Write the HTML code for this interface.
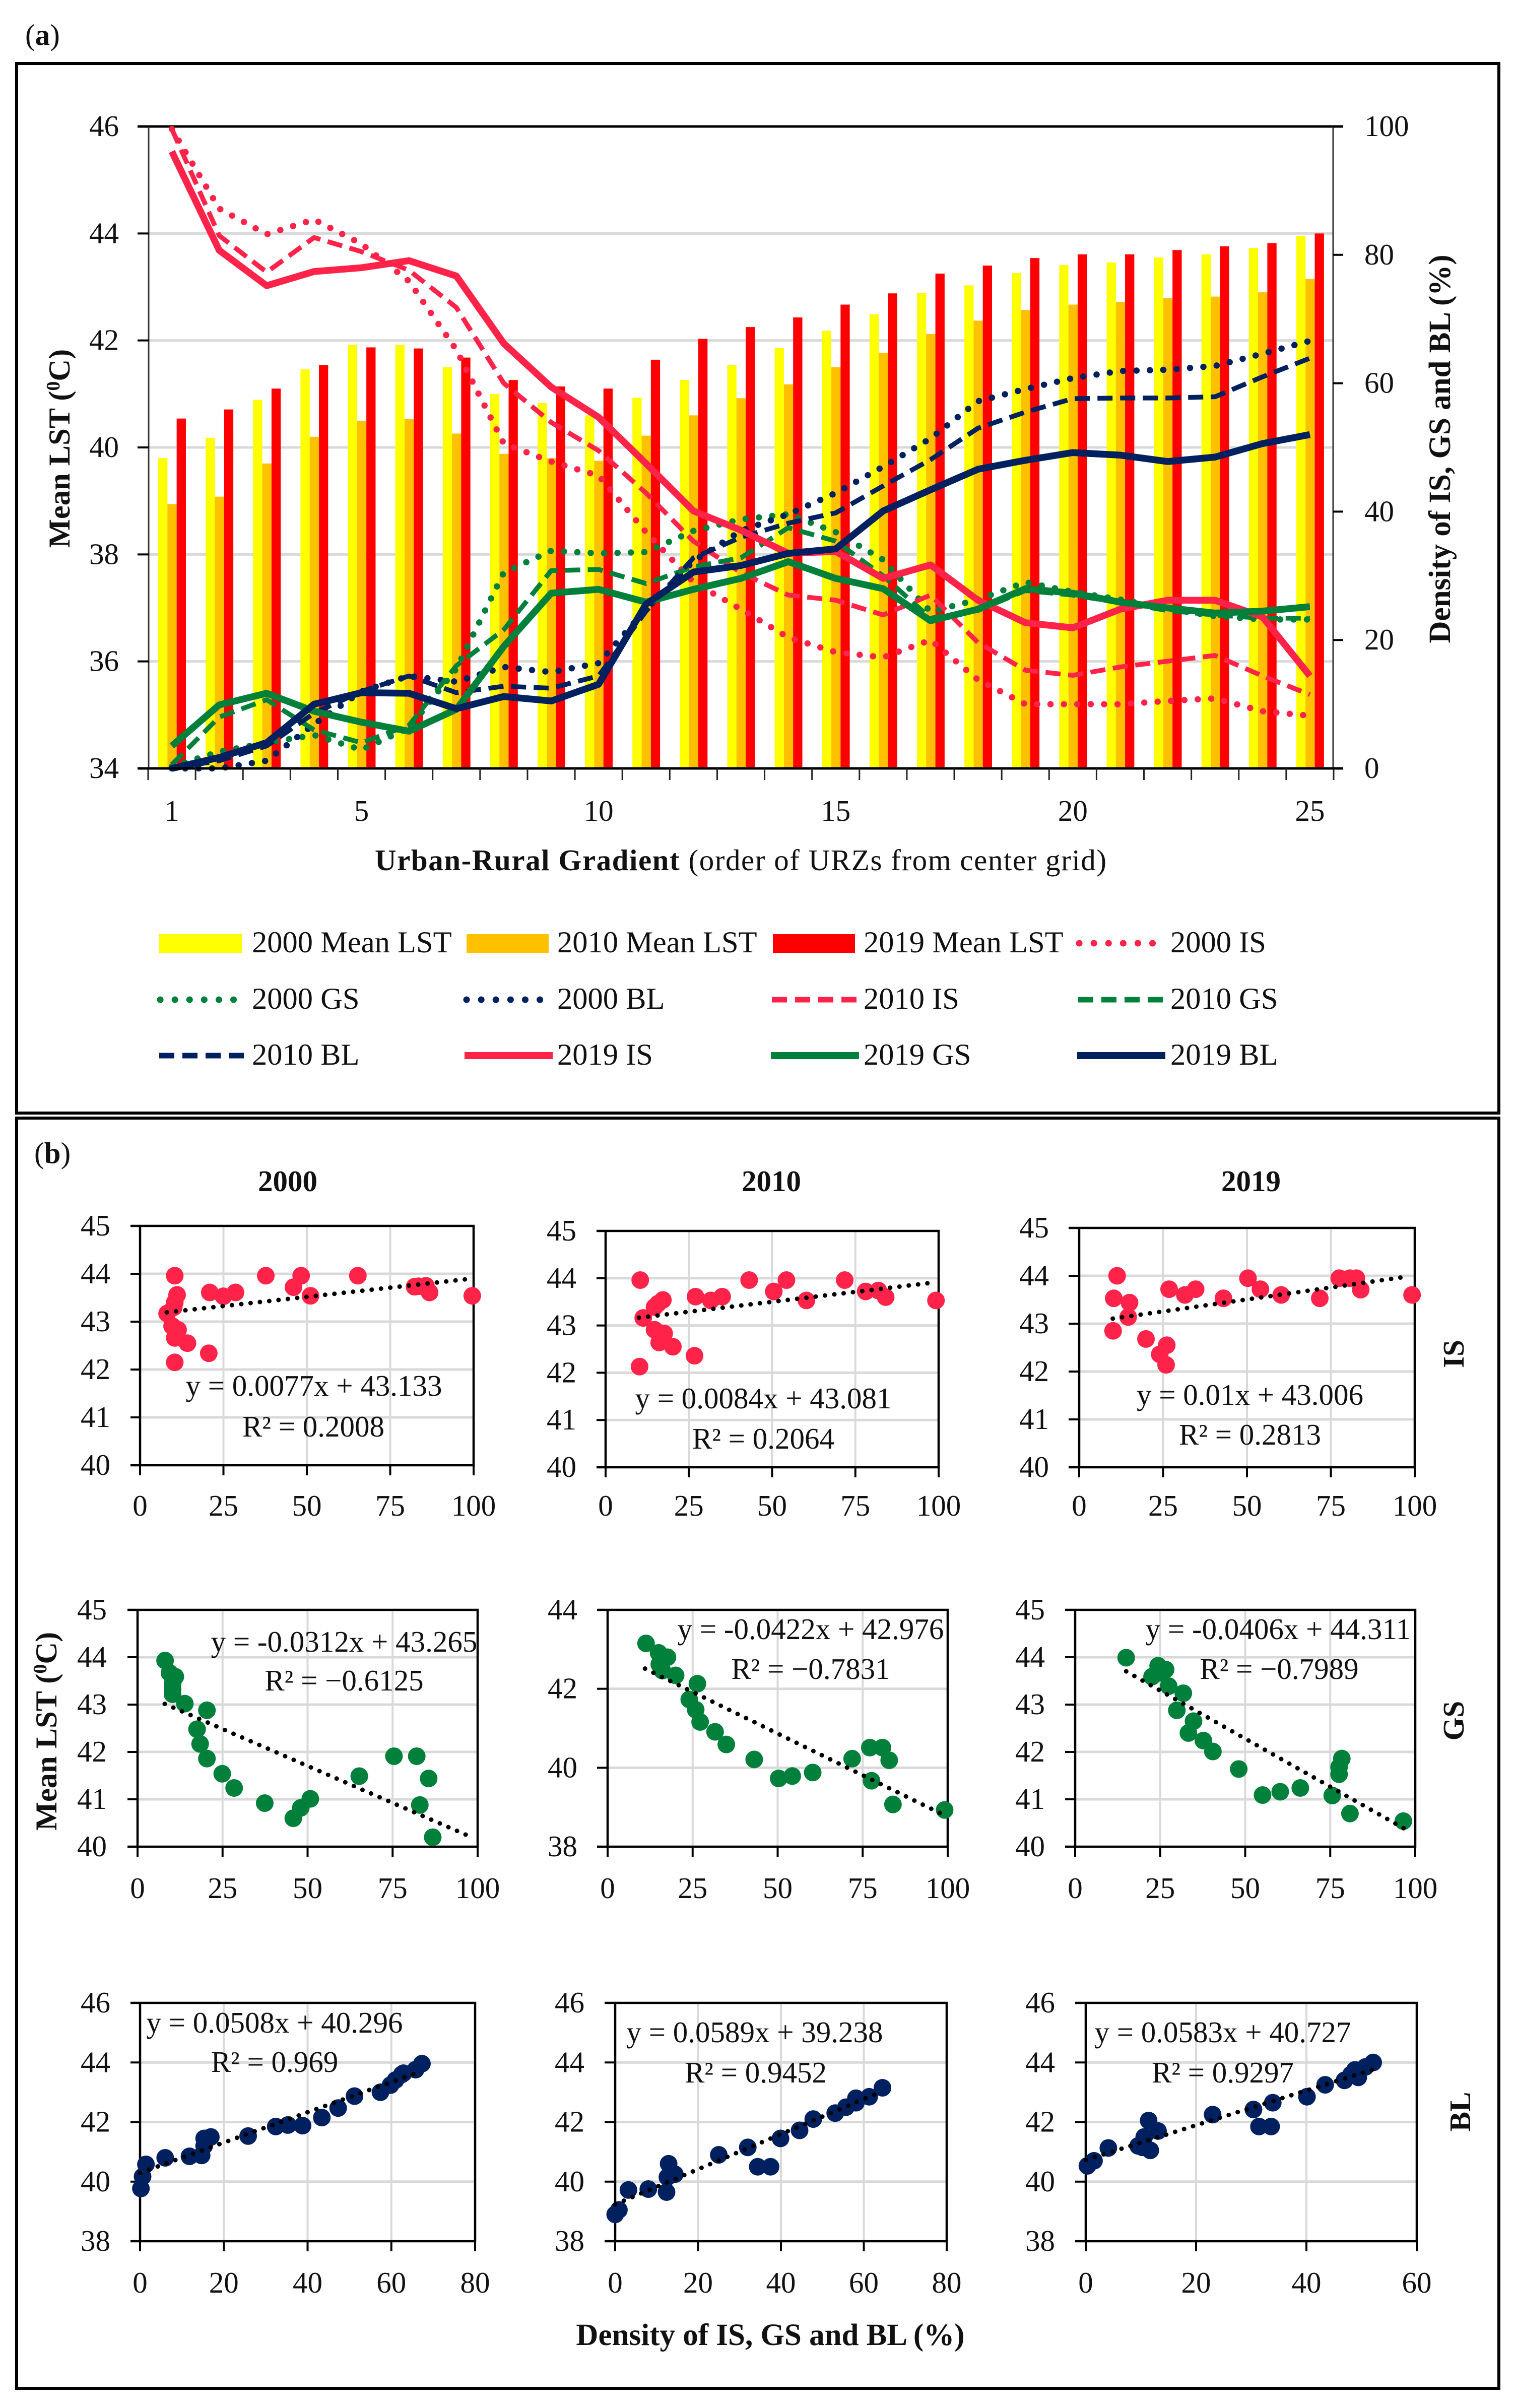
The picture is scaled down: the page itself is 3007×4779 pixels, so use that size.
<!DOCTYPE html>
<html lang="en">
<head>
<meta charset="utf-8">
<title>Mean LST along the urban-rural gradient</title>
<style>
html,body{margin:0;padding:0;background:#fff;width:3007px;height:4779px;overflow:hidden}
svg{display:block}
text{font-family:"Liberation Serif","DejaVu Serif",serif;fill:#111;font-size:59px}
.b{font-weight:bold}
.m{text-anchor:middle}
.lg{font-size:60.5px}
</style>
</head>
<body>
<svg id="figure" xmlns="http://www.w3.org/2000/svg" width="3007" height="4779" viewBox="0 0 3007 4779">
  <rect x="0" y="0" width="3007" height="4779" fill="#fff"/>
  <rect x="33" y="126" width="2942" height="2083" fill="none" stroke="#000" stroke-width="6"/>
  <rect x="33" y="2219" width="2942" height="2521" fill="none" stroke="#000" stroke-width="6"/>
  <text x="50" y="89">(<tspan class="b">a</tspan>)</text>
  <text x="68" y="2308">(<tspan class="b">b</tspan>)</text>
  <g id="main-chart"></g>
  <g id="scatter-charts"></g>

  <text class="b m" style="font-size:60.5px" transform="translate(138,890) rotate(-90)">Mean LST (<tspan dy="-20" font-size="38">0</tspan><tspan dy="20">C)</tspan></text>
  <text class="b m" style="font-size:61px" transform="translate(2878,891) rotate(-90)">Density of IS, GS and BL (%)</text>
  <text x="744" y="1727" textLength="1452"><tspan class="b">Urban-Rural Gradient</tspan> (order of URZs from center grid)</text>

  <g>
    <rect x="316" y="1854" width="164" height="37" fill="#ffff00"/>
    <text class="lg" x="500" y="1890">2000 Mean LST</text>
    <rect x="926" y="1854" width="163" height="37" fill="#ffc000"/>
    <text class="lg" x="1106" y="1890">2010 Mean LST</text>
    <rect x="1534" y="1854" width="163" height="37" fill="#ff0000"/>
    <text class="lg" x="1714" y="1890">2019 Mean LST</text>
    <line x1="2142" y1="1872" x2="2292" y2="1872" stroke="#ff2349" stroke-width="13" stroke-linecap="round" stroke-dasharray="0.1 29"/>
    <text class="lg" x="2323" y="1890">2000 IS</text>

    <line x1="318" y1="1984" x2="468" y2="1984" stroke="#00803a" stroke-width="13" stroke-linecap="round" stroke-dasharray="0.1 29"/>
    <text class="lg" x="500" y="2002">2000 GS</text>
    <line x1="926" y1="1984" x2="1076" y2="1984" stroke="#002060" stroke-width="13" stroke-linecap="round" stroke-dasharray="0.1 29"/>
    <text class="lg" x="1106" y="2002">2000 BL</text>
    <line x1="1532" y1="1984" x2="1705" y2="1984" stroke="#ff2349" stroke-width="11" stroke-dasharray="30 16"/>
    <text class="lg" x="1714" y="2002">2010 IS</text>
    <line x1="2140" y1="1984" x2="2313" y2="1984" stroke="#00803a" stroke-width="11" stroke-dasharray="30 16"/>
    <text class="lg" x="2323" y="2002">2010 GS</text>

    <line x1="316" y1="2095" x2="489" y2="2095" stroke="#002060" stroke-width="11" stroke-dasharray="30 16"/>
    <text class="lg" x="500" y="2113">2010 BL</text>
    <line x1="922" y1="2095" x2="1097" y2="2095" stroke="#ff2349" stroke-width="14"/>
    <text class="lg" x="1106" y="2113">2019 IS</text>
    <line x1="1530" y1="2095" x2="1705" y2="2095" stroke="#00803a" stroke-width="14"/>
    <text class="lg" x="1714" y="2113">2019 GS</text>
    <line x1="2138" y1="2095" x2="2313" y2="2095" stroke="#002060" stroke-width="14"/>
    <text class="lg" x="2323" y="2113">2019 BL</text>
  </g>

  <text class="b m" x="571" y="2364">2000</text>
  <text class="b m" x="1531" y="2364">2010</text>
  <text class="b m" x="2483" y="2364">2019</text>
  <text class="b m" transform="translate(2905,2687) rotate(-90)">IS</text>
  <text class="b m" transform="translate(2905,3415) rotate(-90)">GS</text>
  <text class="b m" transform="translate(2918,4191) rotate(-90)">BL</text>
  <text class="b m" style="font-size:60.5px" transform="translate(112,3436) rotate(-90)">Mean LST (<tspan dy="-20" font-size="38">0</tspan><tspan dy="20">C)</tspan></text>
  <text class="b m" style="font-size:61px" x="1529" y="4654">Density of IS, GS and BL (%)</text>

  <g>
    <text class="m" x="623" y="2770">y = 0.0077x + 43.133</text>
    <text class="m" x="622" y="2851">R² = 0.2008</text>
    <text class="m" x="1515" y="2795">y = 0.0084x + 43.081</text>
    <text class="m" x="1515" y="2875">R² = 0.2064</text>
    <text class="m" x="2481" y="2788">y = 0.01x + 43.006</text>
    <text class="m" x="2481" y="2867">R² = 0.2813</text>
    <text class="m" x="683" y="3278">y = -0.0312x + 43.265</text>
    <text class="m" x="683" y="3355">R² = −0.6125</text>
    <text class="m" x="1609" y="3253">y = -0.0422x + 42.976</text>
    <text class="m" x="1609" y="3332">R² = −0.7831</text>
    <text class="m" x="2537" y="3253">y = -0.0406x + 44.311</text>
    <text class="m" x="2539" y="3332">R² = −0.7989</text>
    <text class="m" x="545" y="4034">y = 0.0508x + 40.296</text>
    <text class="m" x="545" y="4112">R² = 0.969</text>
    <text class="m" x="1498" y="4053">y = 0.0589x + 39.238</text>
    <text class="m" x="1500" y="4133">R² = 0.9452</text>
    <text class="m" x="2427" y="4053">y = 0.0583x + 40.727</text>
    <text class="m" x="2427" y="4133">R² = 0.9297</text>
  </g>
</svg>

<script>
// ---- Panel (a) data ----
const categories = [1,2,3,4,5,6,7,8,9,10,11,12,13,14,15,16,17,18,19,20,21,22,23,24,25];
const categoryLabels = [1,5,10,15,20,25];
const lstTicks = [34,36,38,40,42,44,46];
const densityTicks = [0,20,40,60,80,100];

const lst2000 = [39.8,40.18,40.89,41.46,41.92,41.92,41.5,41.0,40.83,40.6,40.93,41.26,41.54,41.86,42.18,42.49,42.89,43.03,43.26,43.41,43.46,43.55,43.61,43.73,43.95];
const lst2010 = [38.94,39.08,39.7,40.2,40.5,40.53,40.26,39.88,39.8,39.75,40.22,40.6,40.92,41.18,41.5,41.77,42.12,42.37,42.57,42.67,42.72,42.79,42.82,42.9,43.15];
const lst2019 = [40.54,40.71,41.1,41.54,41.87,41.85,41.68,41.26,41.14,41.1,41.64,42.03,42.25,42.43,42.67,42.88,43.25,43.4,43.54,43.61,43.61,43.69,43.76,43.82,44.0];

const is2000 = [99.6,87.2,83.2,85.5,81.7,75.9,65.2,50.6,47.8,45.6,36.8,29,24.8,20.4,18.1,17.3,20,13.8,10,10,10,10.5,10.9,8.9,8.2];
const gs2000 = [0.3,2.6,4,5.2,2.9,6.3,15.5,30.5,33.9,33.5,33.7,37,38.8,39.6,36.8,32.5,24.4,26.3,29,27.5,26.3,24.9,23.7,23.2,23.2];
const bl2000 = [0,0,1.2,6.9,12,14.4,13.5,15.8,15,16.4,24.8,32.3,37,39.6,42.9,47,51.4,57.2,59.1,60.8,61.9,62.1,62.7,64.6,66.6];
const is2010 = [99.6,83,77.3,82.7,80.5,77.6,71.8,60,53.9,49.5,42.9,35.4,30.5,27,26.2,23.9,27,19.6,15.3,14.5,15.8,16.7,17.6,14.4,11.5];
const gs2010 = [0.6,8,10.7,6,4,6.7,16,21.6,30.8,31,28.8,31.4,32.8,37.5,35.4,30,23.4,24.6,27.7,27,25.8,24.6,23.9,23.4,23.4];
const bl2010 = [0,1.2,3.5,8.6,12,14.4,11.8,12.8,12.5,14.4,24.5,32.8,36,38.2,39.8,44,48.1,53,55.5,57.6,57.7,57.7,57.9,61,63.9];
const is2019 = [96.1,80.7,75.2,77.4,78,79.1,76.7,66.2,59.4,54.7,47.5,40.1,37.1,33.5,33.8,29.6,31.7,26.2,22.7,21.9,24.8,26.2,26.2,23.6,14.4];
const gs2019 = [3.5,9.9,11.7,8.9,7.2,5.8,9.2,19,27.3,27.9,25.9,27.9,29.6,32.2,29.6,28,23,24.8,28,27.3,25.9,25,24.2,24.5,25.2];
const bl2019 = [0,1.7,4,10,11.8,11.7,9.3,11.2,10.5,13.1,25.6,30.6,31.6,33.5,34.2,40.1,43.4,46.6,48,49.2,48.8,47.8,48.5,50.6,52];

// ---- Panel (b) data ----
const isX2000 = [10.4,11.1,10.4,10.1,8.1,9.6,11.4,10.4,14.2,20.6,10.4,20.9,25,28.6,37.7,46,48.3,51.1,65.3,82.3,85.7,83.5,86.8,99.6];
const isY2000 = [43.96,43.56,43.4,43.3,43.17,42.91,42.83,42.66,42.55,42.34,42.15,43.61,43.53,43.61,43.96,43.72,43.96,43.54,43.96,43.73,43.75,43.74,43.61,43.54];
const isX2010 = [10.4,17.2,15.7,14.7,11.3,14.7,17.6,16.1,20.2,26.7,10.2,27,31.6,35,43.1,50.5,54.3,60.3,71.8,78.1,81.9,84.1,99.2];
const isY2010 = [43.96,43.54,43.46,43.39,43.16,42.91,42.83,42.64,42.55,42.36,42.13,43.61,43.53,43.61,43.96,43.72,43.96,43.53,43.96,43.72,43.74,43.6,43.53];
const isX2019 = [11.3,10.3,15,14.6,10.1,19.9,26.1,24,25.9,26.8,31.5,34.7,43,50.3,54,60.2,71.7,77.5,80.7,82.6,83.9,99.2];
const isY2019 = [44,43.53,43.44,43.14,42.85,42.68,42.55,42.36,42.14,43.72,43.6,43.72,43.53,43.95,43.72,43.6,43.53,43.95,43.95,43.95,43.71,43.6];
const gsX2000 = [8.1,9.4,11.1,10.3,10.3,10.3,13.9,20.4,17.5,18.4,20.4,24.9,28.4,37.4,45.8,48,50.8,65.2,75.4,82.1,85.6,83,86.8];
const gsY2000 = [43.93,43.67,43.59,43.44,43.33,43.22,43.02,42.88,42.48,42.17,41.86,41.54,41.24,40.92,40.6,40.82,41.01,41.49,41.91,41.91,41.44,40.88,40.2];
const gsX2010 = [11.3,15,17.6,15.2,16.1,20,26.4,24,25.9,27.2,31.6,34.9,43.1,50.3,54.3,60.3,71.9,77.1,80.8,82.8,77.6,83.9,99.1];
const gsY2010 = [43.15,42.91,42.8,42.62,42.46,42.34,42.13,41.73,41.47,41.16,40.91,40.59,40.21,39.73,39.79,39.88,40.23,40.51,40.51,40.19,39.67,39.07,38.93];
const gsX2019 = [15,24.4,26.6,22.6,25.3,27.5,31.8,29.9,34.8,33.3,37.7,40.5,48.1,55.1,60.3,66.2,75.6,78.4,77.6,77.6,80.8,96.5];
const gsY2019 = [43.99,43.82,43.74,43.59,43.67,43.39,43.24,42.88,42.65,42.4,42.24,42.01,41.64,41.09,41.16,41.24,41.08,41.86,41.68,41.53,40.7,40.54];
const blX2000 = [0.2,0.6,1.4,6,11.8,14.7,15.3,15.3,16.9,25.8,32.4,35.3,38.8,43.4,47.3,51.2,57.4,59.8,61,62.5,62.9,65.8,67.3];
const blY2000 = [39.77,40.17,40.58,40.8,40.85,40.88,41.2,41.45,41.5,41.53,41.85,41.9,41.88,42.15,42.47,42.87,43,43.24,43.41,43.6,43.64,43.76,43.96];
const blX2010 = [0,0.9,3.2,8,12.4,12.9,12.6,14.4,25,32,34.4,37.5,39.9,44.5,47.8,53.1,55.7,58.1,58.1,61.3,64.5];
const blY2010 = [38.9,39.05,39.72,39.75,39.65,40.6,40.15,40.25,40.9,41.15,40.5,40.5,41.45,41.72,42.1,42.3,42.5,42.8,42.65,42.85,43.15];
const blX2019 = [0.3,1.5,4.1,9.5,10.6,11.4,13.1,11.7,10.3,23,30.4,31.4,33.6,33.9,40.1,43.4,46.9,48.1,48.8,49.4,50.7,52.1];
const blY2019 = [40.53,40.7,41.13,41.2,41.5,42.05,41.7,41.05,41.15,42.25,42.42,41.85,41.85,42.65,42.85,43.25,43.4,43.6,43.75,43.5,43.85,44];

// Trend lines, in panel order
const trendSlopes = [0.0077,0.0084,0.01,-0.0312,-0.0422,-0.0406,0.0508,0.0589,0.0583];
const trendIntercepts = [43.133,43.081,43.006,43.265,42.976,44.311,40.296,39.238,40.727];
const trendStarts = [8,10,10,8,11,15,0,0,0];
const trendEnds = [99,99,97,98,99,97,67,64,52];

const ticksY45 = [40,41,42,43,44,45];
const ticksY44 = [38,40,42,44];
const ticksY46 = [38,40,42,44,46];
const ticksX100 = [0,25,50,75,100];
const ticksX80 = [0,20,40,60,80];
const ticksX60 = [0,20,40,60];

const NS = 'http://www.w3.org/2000/svg';
function add(parent, tag, attrs, name) {
  const el = document.createElementNS(NS, tag);
  for (const k in attrs) el.setAttribute(k, attrs[k]);
  
  
  parent.appendChild(el);
  return el;
}
function label(parent, x, y, str, anchor, name) {
  const t = add(parent, 'text', {x: x, y: y, 'text-anchor': anchor}, name);
  t.textContent = str;
  return t;
}

// ---- Panel (a) ----
const main = document.getElementById('main-chart');
const plotL = 294, plotR = 2647, plotT = 251, plotB = 1525;
const xCat = i => plotL + (i + 0.5) * (plotR - plotL) / categories.length;
const yLst = v => plotB - (v - 34) * (plotB - plotT) / 12;
const yDensity = v => plotB - v * (plotB - plotT) / 100;

lstTicks.forEach(v => {
  if (v !== 34 && v !== 46) add(main, 'line', {x1: plotL, x2: plotR, y1: yLst(v), y2: yLst(v), stroke: '#d9d9d9', 'stroke-width': 5}, 'gridline-' + v);
});

const barSets = [[lst2000, '#ffff00', '2000'], [lst2010, '#ffc000', '2010'], [lst2019, '#ff0000', '2019']];
barSets.forEach((s, k) => {
  const g = add(main, 'g', {}, 'bars-' + s[2] + '-mean-lst');
  s[0].forEach((v, i) => {
    add(g, 'rect', {x: xCat(i) - 27 + k * 18.3, y: yLst(v), width: 18.3, height: plotB - yLst(v), fill: s[1]}, 'bar-' + s[2] + '-cat' + categories[i]);
  });
});

add(main, 'line', {x1: 273, x2: 2666, y1: plotT, y2: plotT, stroke: '#000', 'stroke-width': 5}, 'top-axis-line');
add(main, 'line', {x1: 295, x2: 295, y1: plotT, y2: plotB, stroke: '#333', 'stroke-width': 3}, 'left-axis-line');
add(main, 'line', {x1: 2646, x2: 2646, y1: plotT, y2: plotB, stroke: '#333', 'stroke-width': 3}, 'right-axis-line');

const dotted = {sw: 12.5, dash: '0.1 26.5', cap: 'round'};
const dashed = {sw: 9.5, dash: '30 15', cap: 'butt'};
const solid = {sw: 13.5, dash: 'none', cap: 'butt'};
const lineSeries = [
  [is2000, '#ff2349', dotted, '2000-is'], [gs2000, '#00803a', dotted, '2000-gs'], [bl2000, '#002060', dotted, '2000-bl'],
  [is2010, '#ff2349', dashed, '2010-is'], [gs2010, '#00803a', dashed, '2010-gs'], [bl2010, '#002060', dashed, '2010-bl'],
  [is2019, '#ff2349', solid, '2019-is'], [gs2019, '#00803a', solid, '2019-gs'], [bl2019, '#002060', solid, '2019-bl']
];
lineSeries.forEach(s => {
  const d = s[0].map((v, i) => (i ? 'L' : 'M') + xCat(i).toFixed(1) + ' ' + yDensity(v).toFixed(1)).join(' ');
  add(main, 'path', {d: d, fill: 'none', stroke: s[1], 'stroke-width': s[2].sw, 'stroke-dasharray': s[2].dash, 'stroke-linecap': s[2].cap, 'stroke-linejoin': 'round'}, 'line-' + s[3]);
});

add(main, 'line', {x1: 273, x2: 2666, y1: plotB, y2: plotB, stroke: '#000', 'stroke-width': 5}, 'bottom-axis-line');
for (let i = 0; i <= categories.length; i++) {
  const x = plotL + i * (plotR - plotL) / categories.length;
  add(main, 'line', {x1: x, x2: x, y1: plotB, y2: plotB + 23, stroke: '#222', 'stroke-width': 3}, 'x-tick-mark');
}
lstTicks.forEach(v => {
  add(main, 'line', {x1: 273, x2: 295, y1: yLst(v), y2: yLst(v), stroke: '#000', 'stroke-width': 4}, 'left-tick-mark-' + v);
  label(main, 236, yLst(v) + 19, String(v), 'end', 'left-tick-label-' + v);
});
densityTicks.forEach(v => {
  add(main, 'line', {x1: 2646, x2: 2666, y1: yDensity(v), y2: yDensity(v), stroke: '#000', 'stroke-width': 4}, 'right-tick-mark-' + v);
  label(main, 2708, yDensity(v) + 19, String(v), 'start', 'right-tick-label-' + v);
});
categoryLabels.forEach(c => {
  label(main, xCat(c - 1), 1629, String(c), 'middle', 'x-tick-label-' + c);
});

// ---- Panel (b) ----
const scatterRoot = document.getElementById('scatter-charts');
const RED = '#ff2349', GREEN = '#00803a', NAVY = '#002060';
const panels = [
  {id:'is-2000', xs:isX2000, ys:isY2000, c:RED,   l:278,  r:940,  t:2433, b:2908, xt:ticksX100, yt:ticksY45, lab:219,  tick:259,  xl:3008},
  {id:'is-2010', xs:isX2010, ys:isY2010, c:RED,   l:1202, r:1863, t:2443, b:2912, xt:ticksX100, yt:ticksY45, lab:1144, tick:1184, xl:3008},
  {id:'is-2019', xs:isX2019, ys:isY2019, c:RED,   l:2142, r:2808, t:2437, b:2912, xt:ticksX100, yt:ticksY45, lab:2082, tick:2121, xl:3008},
  {id:'gs-2000', xs:gsX2000, ys:gsY2000, c:GREEN, l:273,  r:948,  t:3195, b:3665, xt:ticksX100, yt:ticksY45, lab:212,  tick:253,  xl:3767},
  {id:'gs-2010', xs:gsX2010, ys:gsY2010, c:GREEN, l:1206, r:1881, t:3195, b:3665, xt:ticksX100, yt:ticksY44, lab:1146, tick:1185, xl:3767},
  {id:'gs-2019', xs:gsX2019, ys:gsY2019, c:GREEN, l:2134, r:2809, t:3195, b:3665, xt:ticksX100, yt:ticksY45, lab:2074, tick:2114, xl:3767},
  {id:'bl-2000', xs:blX2000, ys:blY2000, c:NAVY,  l:278,  r:943,  t:3975, b:4448, xt:ticksX80,  yt:ticksY46, lab:219,  tick:259,  xl:4550},
  {id:'bl-2010', xs:blX2010, ys:blY2010, c:NAVY,  l:1221, r:1879, t:3975, b:4448, xt:ticksX80,  yt:ticksY46, lab:1160, tick:1200, xl:4550},
  {id:'bl-2019', xs:blX2019, ys:blY2019, c:NAVY,  l:2155, r:2812, t:3975, b:4448, xt:ticksX60,  yt:ticksY46, lab:2094, tick:2134, xl:4550}
];
panels.forEach((p, n) => {
  const g = add(scatterRoot, 'g', {}, 'scatter-' + p.id);
  const xMin = p.xt[0], xMax = p.xt[p.xt.length - 1];
  const yMin = p.yt[0], yMax = p.yt[p.yt.length - 1];
  const sx = v => p.l + (v - xMin) * (p.r - p.l) / (xMax - xMin);
  const sy = v => p.b - (v - yMin) * (p.b - p.t) / (yMax - yMin);
  p.xt.slice(1, -1).forEach(v => {
    add(g, 'line', {x1: sx(v), x2: sx(v), y1: p.t, y2: p.b, stroke: '#d9d9d9', 'stroke-width': 4}, 'vertical-gridline');
  });
  p.yt.slice(1, -1).forEach(v => {
    add(g, 'line', {x1: p.l, x2: p.r, y1: sy(v), y2: sy(v), stroke: '#d9d9d9', 'stroke-width': 5}, 'horizontal-gridline');
  });
  add(g, 'path', {d: 'M' + p.tick + ' ' + p.t + 'H' + p.r + 'V' + p.b + 'H' + p.tick + 'M' + p.l + ' ' + p.t + 'V' + p.b, fill: 'none', stroke: '#000', 'stroke-width': 4.5}, 'plot-frame');
  p.xt.forEach(v => {
    add(g, 'line', {x1: sx(v), x2: sx(v), y1: p.b, y2: p.b + 20, stroke: '#000', 'stroke-width': 4}, 'x-tick-mark');
    label(g, sx(v), p.xl, String(v), 'middle', 'x-tick-label');
  });
  p.yt.forEach(v => {
    add(g, 'line', {x1: p.tick, x2: p.l, y1: sy(v), y2: sy(v), stroke: '#000', 'stroke-width': 4}, 'y-tick-mark');
    label(g, p.lab, sy(v) + 19, String(v), 'end', 'y-tick-label');
  });
  p.xs.forEach((x, i) => {
    add(g, 'circle', {cx: sx(x), cy: sy(p.ys[i]), r: 17.5, fill: p.c}, 'point');
  });
  const t0 = trendStarts[n], t1 = trendEnds[n];
  add(g, 'line', {
    x1: sx(t0), y1: sy(trendSlopes[n] * t0 + trendIntercepts[n]),
    x2: sx(t1), y2: sy(trendSlopes[n] * t1 + trendIntercepts[n]),
    stroke: '#000', 'stroke-width': 9, 'stroke-linecap': 'round', 'stroke-dasharray': '0.1 18.5'
  }, 'trend-line');
});
</script>
</body>
</html>
